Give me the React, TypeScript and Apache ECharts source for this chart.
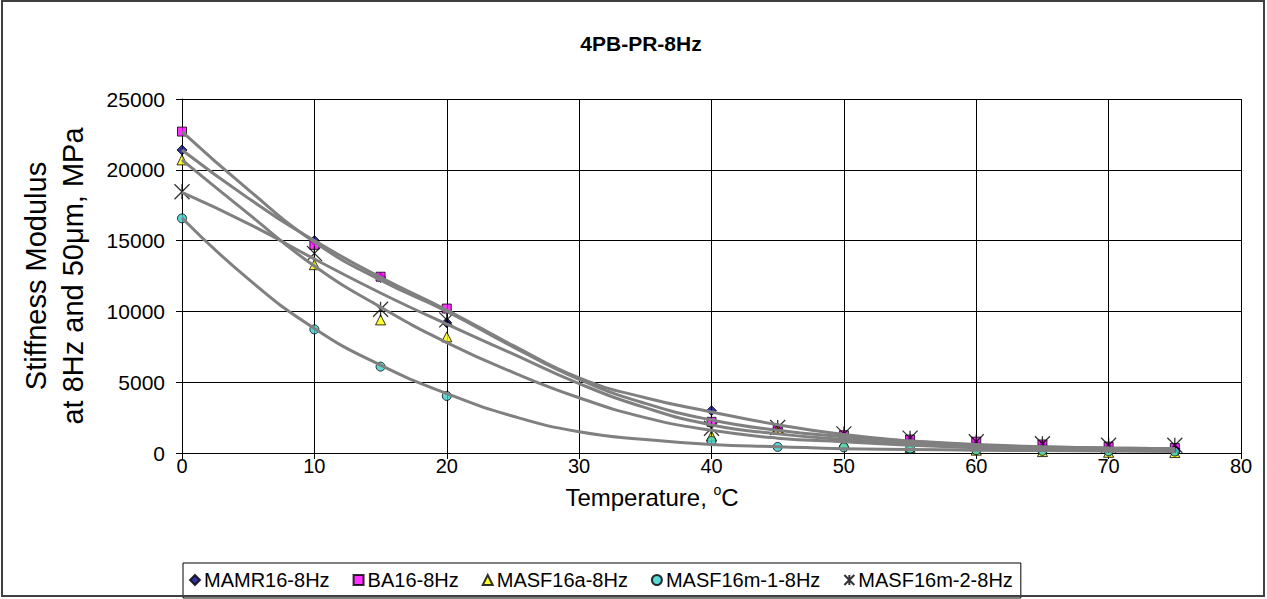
import React, { useEffect, useRef } from "react";
import * as echarts from "echarts";

// Test temperatures (°C)
const temps = [0, 10, 15, 20, 40, 45, 50, 55, 60, 65, 70, 75];
// Measured stiffness modulus (MPa)
const mamr = [21400, 15000, 12400, 9200, 2990, 1750, 1200, 900, 650, 500, 380, 300];
const ba = [22700, 14700, 12450, 10200, 2200, 1650, 1250, 950, 800, 600, 450, 350];
const masfA = [20700, 13300, 9400, 8200, 1200, 1700, 700, 400, 200, 100, 50, 30];
const masfM1 = [16570, 8730, 6100, 4030, 850, 430, 400, 300, 200, 150, 120, 100];
const masfM2 = [18450, 14100, 10150, 9400, 1750, 1800, 1350, 1050, 800, 650, 550, 550];

// Trend curves sampled every 5 °C
const trendT = [0, 5, 10, 15, 20, 25, 30, 35, 40, 45, 50, 55, 60, 65, 70, 75];
const mamrTrend = [21400, 18000, 15000, 12400, 10100, 7600, 5300, 3900, 2900, 2000, 1300, 850, 550, 380, 300, 280];
const baTrend = [22700, 18600, 14900, 12200, 10000, 7500, 5200, 3500, 2330, 1600, 1150, 850, 600, 450, 350, 300];
const masfATrend = [20700, 16900, 13200, 10300, 7800, 5700, 3900, 2500, 1600, 1050, 800, 550, 380, 260, 180, 120];
const masfM1Trend = [16600, 12300, 8800, 6200, 4200, 2600, 1500, 950, 600, 450, 300, 250, 200, 170, 150, 130];
const masfM2Trend = [18400, 16200, 13700, 11300, 9100, 7000, 4900, 3200, 1980, 1350, 950, 700, 520, 420, 350, 300];

const seriesNames = ["MAMR16-8Hz", "BA16-8Hz", "MASF16a-8Hz", "MASF16m-1-8Hz", "MASF16m-2-8Hz"];
const yTicks = { min: 0, max: 25000, interval: 5000 };
const xTicks = { min: 0, max: 80, interval: 10 };

const FONT = "Arial, 'Liberation Sans', sans-serif";
const STAR = "path://M0,0L10,10M10,0L0,10M5,0L5,10";

const pair = (xs: number[], ys: number[]) => xs.map((x, i) => [x, ys[i]]);

export default function App() {
  const ref = useRef<HTMLDivElement>(null);

  useEffect(() => {
    if (!ref.current) return;
    const chart = echarts.init(ref.current, undefined, { renderer: "svg" });

    const markerDefs = [
      { data: mamr, symbol: "diamond", size: 10, color: "#000080" },
      { data: ba, symbol: "rect", size: 9, color: "#FF00FF" },
      { data: masfA, symbol: "triangle", size: 10, color: "#FFFF00" },
      { data: masfM1, symbol: "circle", size: 9, color: "#33CCCC" },
      { data: masfM2, symbol: STAR, size: 15, color: "rgba(0,0,0,0)" },
    ];
    const trends = [mamrTrend, baTrend, masfATrend, masfM1Trend, masfM2Trend];

    const scatterSeries = markerDefs.map((m, i) => ({
      type: "scatter",
      name: seriesNames[i],
      data: pair(temps, m.data),
      symbol: m.symbol,
      symbolSize: m.size,
      itemStyle: { color: m.color, borderColor: "#000", borderWidth: i === 4 ? 1.3 : 1 },
      z: 3,
    }));

    const trendSeries = trends.map((t, i) => ({
      type: "line",
      name: "trend-" + i,
      data: pair(trendT, t),
      smooth: true,
      showSymbol: false,
      symbol: "none",
      lineStyle: { color: "#808080", width: 3 },
      z: 4,
      silent: true,
    }));

    chart.setOption({
      animation: false,
      backgroundColor: "#fff",
      title: {
        text: "4PB-PR-8Hz",
        left: 636,
        top: 28,
        textAlign: "center",
        textStyle: { fontFamily: FONT, fontSize: 21, fontWeight: "bold", color: "#000" },
      },
      grid: { left: 182, right: 26, top: 99, bottom: 146 },
      legend: {
        data: seriesNames,
        left: 183,
        top: 563,
        orient: "horizontal",
        itemGap: 23,
        itemWidth: 10,
        itemHeight: 10,
        padding: [7, 8, 8, 6],
        borderColor: "#000",
        borderWidth: 1,
        backgroundColor: "#fff",
        textStyle: { fontFamily: FONT, fontSize: 20, color: "#000", padding: [0, 0, 0, -1] },
      },
      xAxis: {
        type: "value",
        min: xTicks.min,
        max: xTicks.max,
        interval: xTicks.interval,
        axisLine: { show: true, lineStyle: { color: "#000", width: 1 } },
        axisTick: { show: true, length: 6, lineStyle: { color: "#000" } },
        axisLabel: { fontFamily: FONT, fontSize: 20, color: "#000", margin: 3 },
        splitLine: { show: true, lineStyle: { color: "#000", width: 1 } },
      },
      yAxis: {
        type: "value",
        min: yTicks.min,
        max: yTicks.max,
        interval: yTicks.interval,
        axisLine: { show: true, lineStyle: { color: "#000", width: 1 } },
        axisTick: { show: true, length: 6, lineStyle: { color: "#000" } },
        axisLabel: {
          fontFamily: FONT,
          fontSize: 21,
          color: "#000",
          margin: 17,
          formatter: (v: number) => String(v),
        },
        splitLine: { show: true, lineStyle: { color: "#000", width: 1 } },
      },
      graphic: [
        {
          type: "rect",
          shape: { x: 2, y: 1, width: 1262, height: 595 },
          style: { fill: "none", stroke: "#404040", lineWidth: 2 },
          silent: true,
          z: 100,
        },
        {
          type: "text",
          x: 54,
          y: 276,
          rotation: Math.PI / 2,
          style: {
            text: "Stiffness Modulus\nat 8Hz and 50μm, MPa",
            font: `29px ${FONT}`,
            fill: "#000",
            align: "center",
            verticalAlign: "middle",
            textAlign: "center",
            textVerticalAlign: "middle",
            lineHeight: 37,
          },
        },
        {
          type: "text",
          x: 652,
          y: 497,
          style: {
            text: "{t|Temperature, }{s|o}{t|C}",
            align: "center",
            verticalAlign: "middle",
            textAlign: "center",
            textVerticalAlign: "middle",
            rich: {
              t: { fontFamily: FONT, fontSize: 24, fill: "#000", color: "#000", lineHeight: 28 },
              s: { fontFamily: FONT, fontSize: 14, fill: "#000", color: "#000", verticalAlign: "top", lineHeight: 28 },
            },
          },
        },
      ],
      series: [...scatterSeries, ...trendSeries],
    });

    return () => chart.dispose();
  }, []);

  return (
    <div
      ref={ref}
      style={{ position: "fixed", left: 0, top: 0, width: 1267, height: 599 }}
    />
  );
}
